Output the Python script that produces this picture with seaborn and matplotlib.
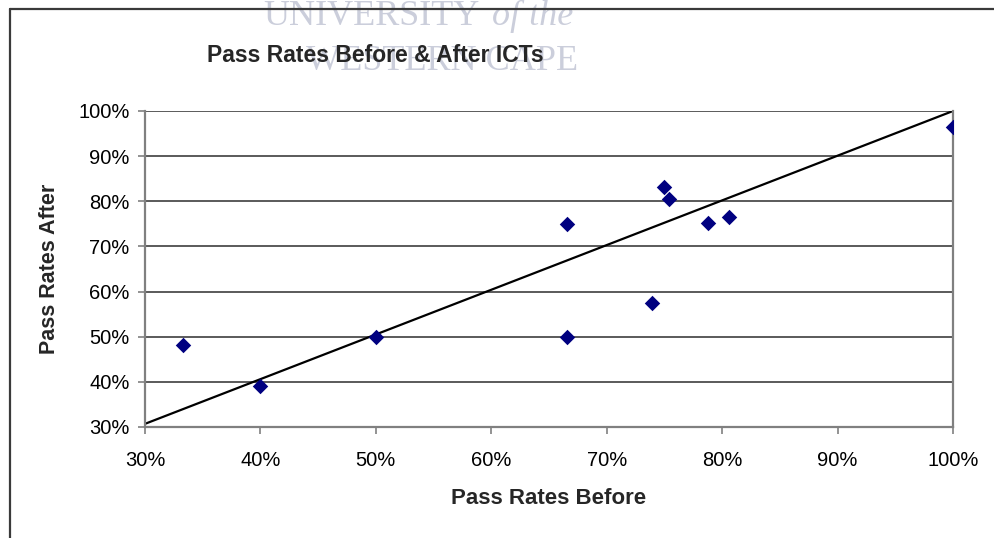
import matplotlib
matplotlib.use("Agg")
import matplotlib.pyplot as plt
from matplotlib.lines import Line2D
from matplotlib.ticker import PercentFormatter
import seaborn as sns
import pandas as pd

# Pass rates per course, before and after ICTs were introduced
pass_before = [0.333, 0.40, 0.50, 0.666, 0.666, 0.750, 0.754, 0.739, 0.788, 0.806, 1.00]
pass_after = [0.482, 0.391, 0.499, 0.749, 0.499, 0.831, 0.804, 0.575, 0.753, 0.766, 0.964]

# Reference line across the plot
line_x = [0.30, 1.00]
line_y = [0.307, 1.00]

x_ticks = [0.3, 0.4, 0.5, 0.6, 0.7, 0.8, 0.9, 1.0]
y_ticks = [0.3, 0.4, 0.5, 0.6, 0.7, 0.8, 0.9, 1.0]

df = pd.DataFrame({"before": pass_before, "after": pass_after})

sns.set_theme(style="white")
plt.rcParams["font.family"] = ["Liberation Sans", "DejaVu Sans"]

W, H = 995, 538
fig = plt.figure(figsize=(W / 100, H / 100), dpi=100)
ax = fig.add_axes([145 / W, 1 - 427 / H, (953 - 145) / W, (427 - 111) / H])


def fx(px):
    return px / W


def fy(py):
    return 1 - py / H


# Faint watermark behind the chart
wm = dict(family="Liberation Serif", fontsize=26, color="#cbcedb", va="baseline", zorder=0)
fig.text(fx(263), fy(25), "UNIVERSITY", ha="left", **wm)
fig.text(fx(492), fy(25), "of the", ha="left", style="italic", **wm)
fig.text(fx(578), fy(70), "WESTERN CAPE", ha="right", **wm)

# Outer chart frame (left and top edges)
frame_kw = dict(color="#3a3a3a", linewidth=1.6, transform=fig.transFigure, zorder=2)
fig.add_artist(Line2D([fx(9.5), fx(9.5)], [0, fy(9)], **frame_kw))
fig.add_artist(Line2D([fx(9.5), 1], [fy(9), fy(9)], **frame_kw))

for y in y_ticks:
    ax.axhline(y, color="#2e2e2e", linewidth=1.1, zorder=1)

ax.plot(line_x, line_y, color="black", linewidth=1.6, zorder=2)
sns.scatterplot(data=df, x="before", y="after", marker="D", color="#000080",
                s=62, linewidth=0, ax=ax, zorder=3)

ax.set_xlim(0.3, 1.0)
ax.set_ylim(0.3, 1.0)
ax.set_xticks(x_ticks)
ax.set_yticks(y_ticks)
ax.xaxis.set_major_formatter(PercentFormatter(1.0, decimals=0))
ax.yaxis.set_major_formatter(PercentFormatter(1.0, decimals=0))

for side in ["left", "bottom", "right"]:
    ax.spines[side].set_visible(True)
    ax.spines[side].set_color("#808080")
    ax.spines[side].set_linewidth(1.6)
ax.spines["top"].set_visible(False)

ax.tick_params(axis="both", which="major", direction="out", length=5, width=1.2,
               color="#808080", labelsize=14.5, labelcolor="black")
ax.tick_params(axis="x", bottom=True, pad=12)
ax.tick_params(axis="y", left=True, pad=6)

ax.set_xlabel("Pass Rates Before", fontsize=16, fontweight="bold")
ax.xaxis.set_label_coords(0.5, (427 - 499) / 316)
ax.xaxis.label.set_va("center")

ax.set_ylabel("Pass Rates After", fontsize=15.5, fontweight="bold")
ax.yaxis.set_label_coords((50 - 145) / 808, 0.5)
ax.yaxis.label.set_va("center")

fig.text(fx(207), fy(56), "Pass Rates Before & After ICTs",
         fontsize=16.5, fontweight="bold", ha="left", va="center", zorder=5)

fig.savefig("out.png", dpi=100, facecolor="white")
